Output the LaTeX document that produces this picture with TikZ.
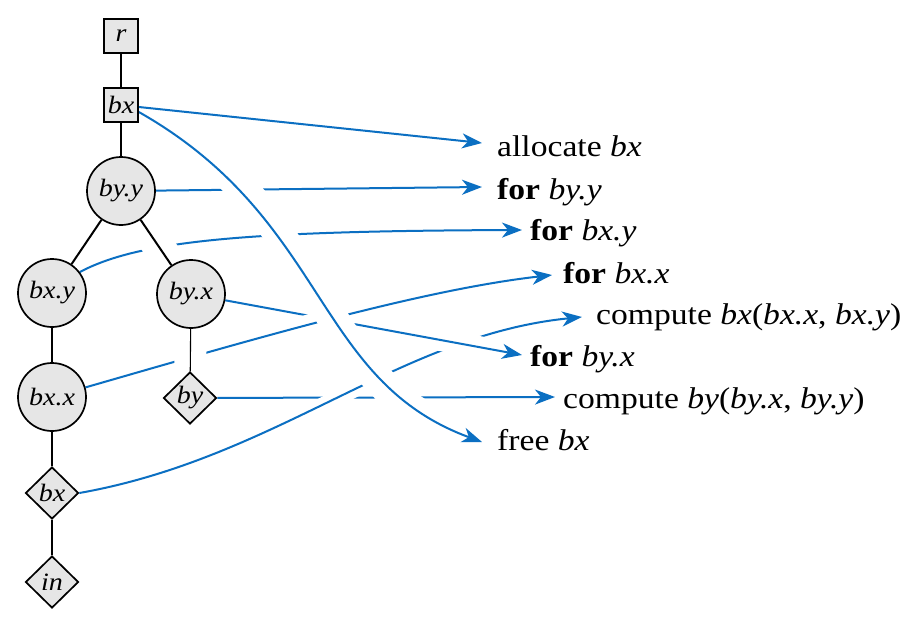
\documentclass[tikz,border=0pt]{standalone}
\usepackage{fontspec}
\setmainfont{Liberation Serif}[FakeStretch=1.12]
\usetikzlibrary{shapes.geometric,arrows.meta}
\definecolor{arrc}{HTML}{0B6FC2}
\definecolor{nodefill}{HTML}{E6E6E6}
\pgfdeclarelayer{bg}
\pgfsetlayers{bg,main}
\begin{document}
\begin{tikzpicture}[x=1pt,y=-1pt,
  tnode/.style={draw=black, line width=1.7pt, fill=nodefill, inner sep=0pt, font=\fontsize{25}{28}\selectfont\itshape},
  boxnode/.style={tnode, rectangle, minimum size=34pt},
  circnode/.style={tnode, circle, minimum size=68pt},
  dianode/.style={tnode, diamond, minimum width=53pt, minimum height=52pt},
  treeline/.style={line width=2pt},
  thinline/.style={line width=1.1pt},
  arr/.style={draw=arrc, line width=2pt, -{Stealth[length=20pt,width=15pt,inset=6pt]}},
  halo/.style={preaction={draw=white, line width=#1, -, shorten <=22pt, shorten >=22pt}},
  ehalo/.style={preaction={draw=white, line width=#1, -, shorten <=4pt, shorten >=4pt}},
  code/.style={anchor=base west, inner sep=0pt, font=\fontsize{30}{36}\selectfont}
]
\useasboundingbox (0,0) rectangle (912,618);

% tree nodes
\node[boxnode] (r) at (121,36) {r};
\node[boxnode] (bx) at (121,105) {bx};
\node[circnode] (byy) at (121,191) {by.y};
\node[circnode] (bxy) at (52,293) {bx.y};
\node[circnode] (byx) at (191,294) {by.x};
\node[circnode] (bxx) at (52,397) {bx.x};
\node[dianode] (by) at (190,398) {by};
\node[dianode] (bxd) at (52,493) {bx};
\node[dianode] (in) at (52,582) {in};

% code lines
\node[code] (t1) at (497,156) {allocate \textit{bx}};
\node[code] (t2) at (497,199) {\textbf{for} \textit{by.y}};
\node[code] (t3) at (530,240) {\textbf{for} \textit{bx.y}};
\node[code] (t4) at (563,283) {\textbf{for} \textit{bx.x}};
\node[code] (t5) at (596,324) {compute \textit{bx}(\textit{bx.x}, \textit{bx.y})};
\node[code] (t6) at (530,366) {\textbf{for} \textit{by.x}};
\node[code] (t7) at (563,408) {compute \textit{by}(\textit{by.x}, \textit{by.y})};
\node[code] (t8) at (497,450) {free \textit{bx}};

\coordinate (e1) at ([xshift=-15pt,yshift=13pt]t1.base west);
\coordinate (e2) at ([xshift=-15pt,yshift=12pt]t2.base west);
\coordinate (e3) at ([xshift=-8pt,yshift=10pt]t3.base west);
\coordinate (e4) at ([xshift=-11pt,yshift=8pt]t4.base west);
\coordinate (e5) at ([xshift=-14pt,yshift=7pt]t5.base west);
\coordinate (e6) at ([xshift=-8pt,yshift=11pt]t6.base west);
\coordinate (e7) at ([xshift=-8pt,yshift=11pt]t7.base west);
\coordinate (e8) at ([xshift=-15pt,yshift=8pt]t8.base west);

\begin{pgfonlayer}{bg}
\fill[white] (0,0) rectangle (912,618);
% connectors, bottom to top
\draw[arr] (by) -- (e7);
\draw[arr, halo=16pt] (bxd.east) .. controls (277,458) and (400,335) .. (e5);
\draw[arr, halo=22pt] (byx) -- (e6);
\draw[arr, halo=20pt] (bxx.16) .. controls (250,340) and (420,290) .. (e4);
\draw[arr] (byy) -- (e2);
\draw[arr] (bxy.37) .. controls (140,240) and (250,231) .. (e3);
\draw[arr, halo=31pt] ([yshift=-7pt]bx.east) .. controls (329,220) and (313,380) .. (e8);
\draw[arr] ([yshift=-2pt]bx.east) -- (e1);
% tree edges
\draw[treeline] (r) -- (bx);
\draw[treeline] (bx) -- (byy);
\draw[treeline] (byy) -- (bxy);
\draw[treeline, ehalo=32pt] (byy) -- (byx);
\draw[treeline] (bxy) -- (bxx);
\draw[thinline, ehalo=32pt] (byx) -- (by);
\draw[treeline] (bxx) -- (bxd);
\draw[treeline] (bxd) -- (in);
\end{pgfonlayer}
\end{tikzpicture}
\end{document}
